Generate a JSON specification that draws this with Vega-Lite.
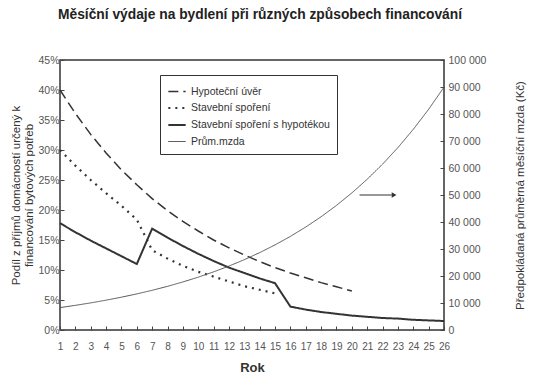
{
  "$schema": "https://vega.github.io/schema/vega-lite/v6.json",
  "width": 384,
  "height": 270,
  "padding": {"left": 10, "top": 8, "right": 5, "bottom": 5},
  "title": {
    "text": "Měsíční výdaje na bydlení při různých způsobech financování",
    "fontSize": 13.8,
    "fontWeight": "bold",
    "font": "Liberation Sans",
    "color": "#222",
    "anchor": "middle",
    "dx": 8,
    "offset": 33
  },
  "datasets": {
    "pct": [
      {"rok": 1, "serie": "Hypoteční úvěr", "hodnota": 40.0},
      {"rok": 2, "serie": "Hypoteční úvěr", "hodnota": 36.1},
      {"rok": 3, "serie": "Hypoteční úvěr", "hodnota": 32.6},
      {"rok": 4, "serie": "Hypoteční úvěr", "hodnota": 29.5},
      {"rok": 5, "serie": "Hypoteční úvěr", "hodnota": 26.7},
      {"rok": 6, "serie": "Hypoteční úvěr", "hodnota": 24.2},
      {"rok": 7, "serie": "Hypoteční úvěr", "hodnota": 21.9},
      {"rok": 8, "serie": "Hypoteční úvěr", "hodnota": 19.9},
      {"rok": 9, "serie": "Hypoteční úvěr", "hodnota": 18.1},
      {"rok": 10, "serie": "Hypoteční úvěr", "hodnota": 16.5},
      {"rok": 11, "serie": "Hypoteční úvěr", "hodnota": 15.0},
      {"rok": 12, "serie": "Hypoteční úvěr", "hodnota": 13.7},
      {"rok": 13, "serie": "Hypoteční úvěr", "hodnota": 12.5},
      {"rok": 14, "serie": "Hypoteční úvěr", "hodnota": 11.4},
      {"rok": 15, "serie": "Hypoteční úvěr", "hodnota": 10.4},
      {"rok": 16, "serie": "Hypoteční úvěr", "hodnota": 9.5},
      {"rok": 17, "serie": "Hypoteční úvěr", "hodnota": 8.7},
      {"rok": 18, "serie": "Hypoteční úvěr", "hodnota": 7.9},
      {"rok": 19, "serie": "Hypoteční úvěr", "hodnota": 7.2},
      {"rok": 20, "serie": "Hypoteční úvěr", "hodnota": 6.5},
      {"rok": 1, "serie": "Stavební spoření", "hodnota": 30.0},
      {"rok": 2, "serie": "Stavební spoření", "hodnota": 27.4},
      {"rok": 3, "serie": "Stavební spoření", "hodnota": 25.0},
      {"rok": 4, "serie": "Stavební spoření", "hodnota": 22.8},
      {"rok": 5, "serie": "Stavební spoření", "hodnota": 20.7},
      {"rok": 6, "serie": "Stavební spoření", "hodnota": 18.4},
      {"rok": 7, "serie": "Stavební spoření", "hodnota": 13.3},
      {"rok": 8, "serie": "Stavební spoření", "hodnota": 11.9},
      {"rok": 9, "serie": "Stavební spoření", "hodnota": 10.7},
      {"rok": 10, "serie": "Stavební spoření", "hodnota": 9.7},
      {"rok": 11, "serie": "Stavební spoření", "hodnota": 8.9},
      {"rok": 12, "serie": "Stavební spoření", "hodnota": 8.1},
      {"rok": 13, "serie": "Stavební spoření", "hodnota": 7.3},
      {"rok": 14, "serie": "Stavební spoření", "hodnota": 6.7},
      {"rok": 15, "serie": "Stavební spoření", "hodnota": 6.1},
      {"rok": 1, "serie": "Stavební spoření s hypotékou", "hodnota": 17.8},
      {"rok": 2, "serie": "Stavební spoření s hypotékou", "hodnota": 16.3},
      {"rok": 3, "serie": "Stavební spoření s hypotékou", "hodnota": 14.9},
      {"rok": 4, "serie": "Stavební spoření s hypotékou", "hodnota": 13.6},
      {"rok": 5, "serie": "Stavební spoření s hypotékou", "hodnota": 12.3},
      {"rok": 6, "serie": "Stavební spoření s hypotékou", "hodnota": 11.0},
      {"rok": 7, "serie": "Stavební spoření s hypotékou", "hodnota": 16.9},
      {"rok": 8, "serie": "Stavební spoření s hypotékou", "hodnota": 15.4},
      {"rok": 9, "serie": "Stavební spoření s hypotékou", "hodnota": 14.0},
      {"rok": 10, "serie": "Stavební spoření s hypotékou", "hodnota": 12.7},
      {"rok": 11, "serie": "Stavební spoření s hypotékou", "hodnota": 11.5},
      {"rok": 12, "serie": "Stavební spoření s hypotékou", "hodnota": 10.4},
      {"rok": 13, "serie": "Stavební spoření s hypotékou", "hodnota": 9.5},
      {"rok": 14, "serie": "Stavební spoření s hypotékou", "hodnota": 8.6},
      {"rok": 15, "serie": "Stavební spoření s hypotékou", "hodnota": 7.8},
      {"rok": 16, "serie": "Stavební spoření s hypotékou", "hodnota": 3.9},
      {"rok": 17, "serie": "Stavební spoření s hypotékou", "hodnota": 3.4},
      {"rok": 18, "serie": "Stavební spoření s hypotékou", "hodnota": 3.0},
      {"rok": 19, "serie": "Stavební spoření s hypotékou", "hodnota": 2.7},
      {"rok": 20, "serie": "Stavební spoření s hypotékou", "hodnota": 2.4},
      {"rok": 21, "serie": "Stavební spoření s hypotékou", "hodnota": 2.2},
      {"rok": 22, "serie": "Stavební spoření s hypotékou", "hodnota": 2.0},
      {"rok": 23, "serie": "Stavební spoření s hypotékou", "hodnota": 1.9},
      {"rok": 24, "serie": "Stavební spoření s hypotékou", "hodnota": 1.7},
      {"rok": 25, "serie": "Stavební spoření s hypotékou", "hodnota": 1.6},
      {"rok": 26, "serie": "Stavební spoření s hypotékou", "hodnota": 1.5}
    ],
    "mzda": [
      {"rok": 1, "serie": "Prům.mzda", "hodnota": 8300},
      {"rok": 2, "serie": "Prům.mzda", "hodnota": 9130},
      {"rok": 3, "serie": "Prům.mzda", "hodnota": 10040},
      {"rok": 4, "serie": "Prům.mzda", "hodnota": 11050},
      {"rok": 5, "serie": "Prům.mzda", "hodnota": 12150},
      {"rok": 6, "serie": "Prům.mzda", "hodnota": 13370},
      {"rok": 7, "serie": "Prům.mzda", "hodnota": 14700},
      {"rok": 8, "serie": "Prům.mzda", "hodnota": 16170},
      {"rok": 9, "serie": "Prům.mzda", "hodnota": 17790},
      {"rok": 10, "serie": "Prům.mzda", "hodnota": 19570},
      {"rok": 11, "serie": "Prům.mzda", "hodnota": 21530},
      {"rok": 12, "serie": "Prům.mzda", "hodnota": 23680},
      {"rok": 13, "serie": "Prům.mzda", "hodnota": 26050},
      {"rok": 14, "serie": "Prům.mzda", "hodnota": 28650},
      {"rok": 15, "serie": "Prům.mzda", "hodnota": 31520},
      {"rok": 16, "serie": "Prům.mzda", "hodnota": 34670},
      {"rok": 17, "serie": "Prům.mzda", "hodnota": 38140},
      {"rok": 18, "serie": "Prům.mzda", "hodnota": 41950},
      {"rok": 19, "serie": "Prům.mzda", "hodnota": 46150},
      {"rok": 20, "serie": "Prům.mzda", "hodnota": 50760},
      {"rok": 21, "serie": "Prům.mzda", "hodnota": 55840},
      {"rok": 22, "serie": "Prům.mzda", "hodnota": 61420},
      {"rok": 23, "serie": "Prům.mzda", "hodnota": 67560},
      {"rok": 24, "serie": "Prům.mzda", "hodnota": 74320},
      {"rok": 25, "serie": "Prům.mzda", "hodnota": 81750},
      {"rok": 26, "serie": "Prům.mzda", "hodnota": 89930}
    ],
    "sipka": [
      {"od": 20.5, "do": 22.6, "hrot": 22.75, "uroven": 22.5}
    ]
  },
  "layer": [
    {
      "layer": [
        {
          "data": {"name": "pct"},
          "mark": {"type": "line", "color": "#333", "strokeCap": "butt"},
          "encoding": {
            "x": {
              "field": "rok", "type": "quantitative",
              "scale": {"domain": [1, 26], "nice": false, "zero": false},
              "axis": {"values": [1,2,3,4,5,6,7,8,9,10,11,12,13,14,15,16,17,18,19,20,21,22,23,24,25,26], "labelOverlap": false, "labelFlush": false, "labelFontSize": 10, "title": "Rok", "titleFontSize": 13, "titleFontWeight": "bold", "titlePadding": 10, "labelPadding": 15}
            },
            "y": {
              "field": "hodnota", "type": "quantitative",
              "scale": {"domain": [0, 45], "nice": false},
              "axis": {
                "values": [0,5,10,15,20,25,30,35,40,45],
                "labelOverlap": false,
                "labelExpr": "datum.value + '%'",
                "title": ["Podíl z příjmů domácností určený k", "financování bytových potřeb"],
                "titleFontSize": 11.5,
                "titleLineHeight": 13,
                "titlePadding": 3,
                "labelPadding": 5
              }
            },
            "strokeDash": {"field": "serie", "type": "nominal", "scale": {"domain": ["Hypoteční úvěr", "Stavební spoření", "Stavební spoření s hypotékou", "Prům.mzda"], "range": [[10,5],[2,5],[1,0],[1,0]]}},
            "strokeWidth": {"field": "serie", "type": "nominal", "scale": {"type": "ordinal", "domain": ["Hypoteční úvěr", "Stavební spoření", "Stavební spoření s hypotékou", "Prům.mzda"], "range": [1.5, 2.2, 2, 1]}}
          }
        },
        {
          "data": {"name": "sipka"},
          "mark": {"type": "rule", "color": "#333", "strokeWidth": 1},
          "encoding": {
            "x": {"field": "od", "type": "quantitative",
              "axis": {"values": [1,2,3,4,5,6,7,8,9,10,11,12,13,14,15,16,17,18,19,20,21,22,23,24,25,26], "labelOverlap": false, "labelFlush": false, "labelFontSize": 10, "title": "Rok", "titleFontSize": 13, "titleFontWeight": "bold", "titlePadding": 10, "labelPadding": 15}},
            "x2": {"field": "do"},
            "y": {"field": "uroven", "type": "quantitative",
              "axis": {
                "values": [0,5,10,15,20,25,30,35,40,45],
                "labelOverlap": false,
                "labelExpr": "datum.value + '%'",
                "title": ["Podíl z příjmů domácností určený k", "financování bytových potřeb"],
                "titleFontSize": 11.5,
                "titleLineHeight": 13,
                "titlePadding": 3,
                "labelPadding": 5
              }}
          }
        },
        {
          "data": {"name": "sipka"},
          "mark": {"type": "point", "shape": "triangle-right", "filled": true, "color": "#333", "size": 30, "opacity": 1},
          "encoding": {
            "x": {"field": "hrot", "type": "quantitative",
              "axis": {"values": [1,2,3,4,5,6,7,8,9,10,11,12,13,14,15,16,17,18,19,20,21,22,23,24,25,26], "labelOverlap": false, "labelFlush": false, "labelFontSize": 10, "title": "Rok", "titleFontSize": 13, "titleFontWeight": "bold", "titlePadding": 10, "labelPadding": 15}},
            "y": {"field": "uroven", "type": "quantitative",
              "axis": {
                "values": [0,5,10,15,20,25,30,35,40,45],
                "labelOverlap": false,
                "labelExpr": "datum.value + '%'",
                "title": ["Podíl z příjmů domácností určený k", "financování bytových potřeb"],
                "titleFontSize": 11.5,
                "titleLineHeight": 13,
                "titlePadding": 3,
                "labelPadding": 5
              }}
          }
        }
      ]
    },
    {
      "data": {"name": "mzda"},
      "mark": {"type": "line", "color": "#555"},
      "encoding": {
        "x": {"field": "rok", "type": "quantitative",
          "axis": {"values": [1,2,3,4,5,6,7,8,9,10,11,12,13,14,15,16,17,18,19,20,21,22,23,24,25,26], "labelOverlap": false, "labelFlush": false, "labelFontSize": 10, "title": "Rok", "titleFontSize": 13, "titleFontWeight": "bold", "titlePadding": 10, "labelPadding": 15}},
        "y": {
          "field": "hodnota", "type": "quantitative",
          "scale": {"domain": [0, 100000], "nice": false},
          "axis": {
            "orient": "right",
            "values": [0,10000,20000,30000,40000,50000,60000,70000,80000,90000,100000],
            "labelOverlap": false,
            "labelExpr": "replace(format(datum.value, ','), ',', ' ')",
            "title": "Předpokládaná průměrná měsíční mzda (Kč)",
            "titleAngle": -90,
            "titleFontSize": 11.5,
            "titlePadding": 40,
            "labelPadding": 8
          }
        },
        "strokeDash": {"field": "serie", "type": "nominal", "scale": {"domain": ["Hypoteční úvěr", "Stavební spoření", "Stavební spoření s hypotékou", "Prům.mzda"], "range": [[10,5],[2,5],[1,0],[1,0]]}},
        "strokeWidth": {"field": "serie", "type": "nominal", "scale": {"type": "ordinal", "domain": ["Hypoteční úvěr", "Stavební spoření", "Stavební spoření s hypotékou", "Prům.mzda"], "range": [1.5, 2.2, 2, 1]}}
      }
    }
  ],
  "resolve": {"scale": {"y": "independent"}},
  "config": {
    "font": "Liberation Sans",
    "view": {"stroke": "#333", "strokeWidth": 1.5},
    "axis": {
      "grid": false,
      "domain": false,
      "labelColor": "#555",
      "labelFontSize": 10.5,
      "labelOverlap": false,
      "tickColor": "#444",
      "tickSize": -4,
      "titleFontWeight": "normal",
      "titleColor": "#333"
    },
    "legend": {
      "orient": "none",
      "legendX": 100,
      "legendY": 15,
      "title": null,
      "strokeColor": "#333",
      "fillColor": "white",
      "padding": 7,
      "symbolType": "stroke",
      "symbolSize": 300,
      "symbolStrokeColor": "#333",
      "labelFontSize": 10.5,
      "labelColor": "#333",
      "rowPadding": 1,
      "labelOffset": 4
    }
  }
}
